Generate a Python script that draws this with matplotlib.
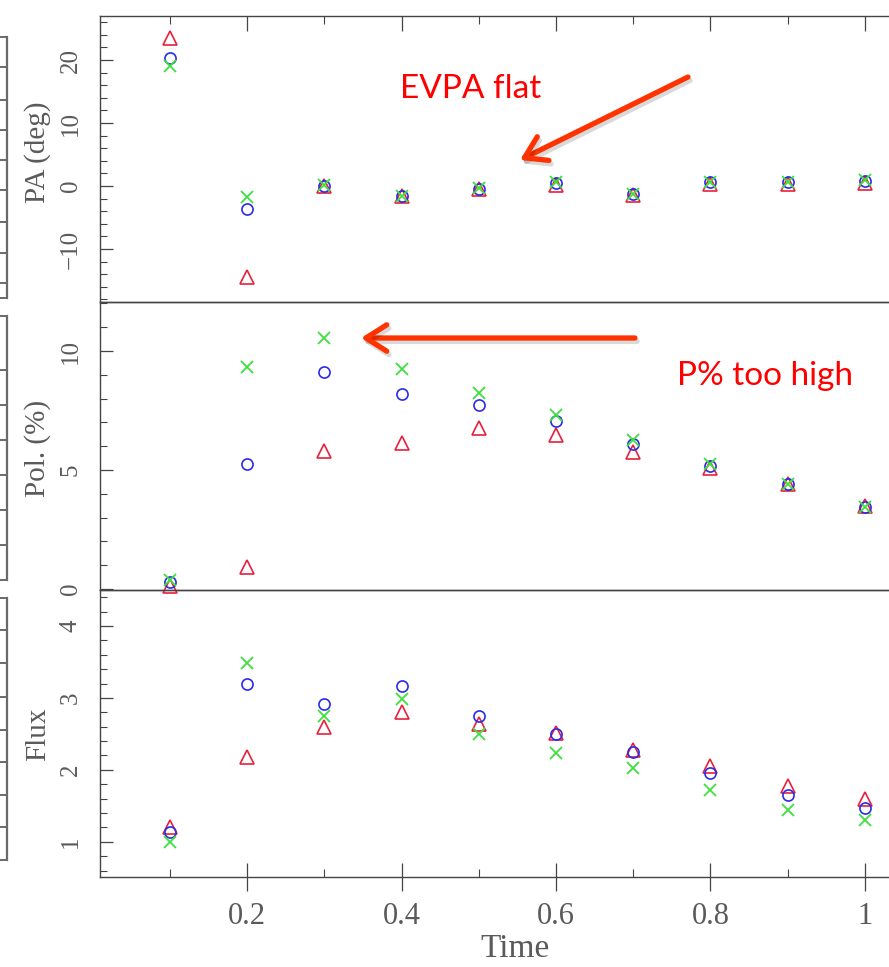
import matplotlib
matplotlib.use("Agg")
import matplotlib.pyplot as plt
import matplotlib.patheffects as pe
from matplotlib.patches import FancyArrowPatch
from matplotlib.lines import Line2D
from matplotlib.ticker import FixedLocator, MultipleLocator

# ---------------- data ----------------
time = [0.1, 0.2, 0.3, 0.4, 0.5, 0.6, 0.7, 0.8, 0.9, 1.0]

pa_tri = [23.5, -14.5, 0.0, -1.6, -0.4, 0.1, -1.4, 0.3, 0.3, 0.5]
pa_circ = [20.3, -3.7, 0.0, -1.6, -0.4, 0.5, -1.3, 0.6, 0.6, 0.8]
pa_cross = [19.0, -1.7, 0.1, -1.5, -0.3, 0.6, -1.2, 0.7, 0.6, 0.9]

pol_tri = [0.13, 0.94, 5.81, 6.15, 6.75, 6.47, 5.77, 5.10, 4.43, 3.50]
pol_circ = [0.30, 5.25, 9.10, 8.19, 7.74, 7.07, 6.09, 5.18, 4.40, 3.46]
pol_cross = [0.38, 9.34, 10.53, 9.23, 8.22, 7.31, 6.26, 5.24, 4.40, 3.46]

flux_tri = [1.21, 2.18, 2.59, 2.81, 2.64, 2.51, 2.28, 2.05, 1.77, 1.59]
flux_circ = [1.13, 3.19, 2.92, 3.17, 2.75, 2.50, 2.25, 1.95, 1.65, 1.47]
flux_cross = [1.00, 3.49, 2.75, 2.99, 2.50, 2.23, 2.02, 1.72, 1.44, 1.30]

x_ticks = [0.2, 0.4, 0.6, 0.8, 1.0]
x_ticklabels = ["0.2", "0.4", "0.6", "0.8", "1"]
pa_ticks = [-10, 0, 10, 20]
pa_ticklabels = ["\u221210", "0", "10", "20"]
pol_ticks = [0, 5, 10]
pol_ticklabels = ["0", "5", "10"]
flux_ticks = [1, 2, 3, 4]
flux_ticklabels = ["1", "2", "3", "4"]

panel_labels = ["PA (deg)", "Pol. (%)", "Flux"]

# ---------------- figure ----------------
W, H = 889, 967
fig = plt.figure(figsize=(W / 100, H / 100), dpi=100)
fig.patch.set_facecolor("white")

SERIF = ["Liberation Serif", "DejaVu Serif"]
AX_COL = "#444444"
TXT_COL = "#5a5a5a"
RED = "#e8203c"
BLUE = "#2b2be8"
GREEN = "#3ee03e"


def px_rect(left, top, right, bottom):
    return [left / W, 1 - bottom / H, (right - left) / W, (bottom - top) / H]


def fx(x):
    return x / W


def fy(y):
    return 1 - y / H


panels = [
    dict(rect=(100, 16, 908, 302), ylim=(-18.4, 27.0), ticks=pa_ticks,
         labels=pa_ticklabels, minor=2, series=(pa_tri, pa_circ, pa_cross)),
    dict(rect=(100, 302, 908, 590), ylim=(-0.04, 12.06), ticks=pol_ticks,
         labels=pol_ticklabels, minor=1, series=(pol_tri, pol_circ, pol_cross)),
    dict(rect=(100, 590, 908, 877), ylim=(0.51, 4.50), ticks=flux_ticks,
         labels=flux_ticklabels, minor=0.2, series=(flux_tri, flux_circ, flux_cross)),
]

axes = []
for i, p in enumerate(panels):
    ax = fig.add_axes(px_rect(*p["rect"]))
    axes.append(ax)
    ax.set_xlim(0.0093, 1.056)
    ax.set_ylim(*p["ylim"])
    for s in ax.spines.values():
        s.set_color(AX_COL)
        s.set_linewidth(1.0)
    ax.spines["right"].set_visible(False)

    tri, circ, cross = p["series"]
    ax.plot(time, tri, ls="none", marker="^", ms=10, mfc="none", mec=RED,
            mew=1.2, clip_on=False, zorder=3)
    ax.plot(time, circ, ls="none", marker="o", ms=8, mfc="none", mec=BLUE,
            mew=1.2, clip_on=False, zorder=4)
    ax.plot(time, cross, ls="none", marker="x", ms=8, mfc="none", mec=GREEN,
            mew=1.3, clip_on=False, zorder=5)

    # y axis
    ax.yaxis.set_major_locator(FixedLocator(p["ticks"]))
    ax.set_yticklabels(p["labels"], family=SERIF, fontsize=18, color=TXT_COL)
    ax.yaxis.set_minor_locator(MultipleLocator(p["minor"]))
    ax.tick_params(axis="y", which="major", direction="in", length=9.5,
                   width=0.9, color=AX_COL, pad=13, labelrotation=90,
                   left=True, right=False)
    ax.tick_params(axis="y", which="minor", direction="in", length=5,
                   width=0.8, color=AX_COL, left=True, right=False)
    for lab in ax.get_yticklabels():
        lab.set_va("center")

    # x axis
    ax.xaxis.set_major_locator(FixedLocator(x_ticks))
    ax.xaxis.set_minor_locator(MultipleLocator(0.1))
    on_top = i == 0
    on_bottom = i == len(panels) - 1
    ax.tick_params(axis="x", which="major", direction="in", length=10.5,
                   width=0.9, color=AX_COL, top=on_top, bottom=on_bottom,
                   labelbottom=on_bottom, labeltop=False)
    ax.tick_params(axis="x", which="minor", direction="in", length=5.5,
                   width=0.8, color=AX_COL, top=on_top, bottom=on_bottom)
    if on_bottom:
        ax.tick_params(axis="x", which="major", direction="inout", length=20,
                       pad=8)
        ax.set_xticklabels(x_ticklabels, family=SERIF, fontsize=22,
                           color=TXT_COL)
    ax.set_facecolor("none")

# axis titles
label_y = [152, 448, 734]
for lab, yy in zip(panel_labels, label_y):
    fig.text(fx(38), fy(yy), lab, rotation=90, ha="center", va="center",
             family=SERIF, fontsize=21, color=TXT_COL)
fig.text(fx(515), fy(949), "Time", ha="center", va="center", family=SERIF,
         fontsize=24, color=TXT_COL)

# frame edge of the neighbouring plot at the far left
edge_col = "#6a6a6a"
edge_blocks = [
    (37, 298, [37, 67, 100, 130, 160, 190, 222, 253, 283, 298]),
    (316, 580, [316, 370, 405, 440, 475, 510, 545, 580]),
    (598, 860, [598, 630, 663, 697, 730, 762, 795, 827, 860]),
]
for top, bot, rows in edge_blocks:
    fig.add_artist(Line2D([fx(7), fx(7)], [fy(top), fy(bot)], color=edge_col,
                          lw=1.6))
    for r in rows:
        fig.add_artist(Line2D([fx(0), fx(7)], [fy(r), fy(r)], color=edge_col,
                              lw=1.4))

# annotations
NOTE_RED = "#ff0000"
ARROW_RED = "#ff3300"
fig.text(fx(400), fy(98), "EVPA flat", ha="left", va="baseline",
         family=["Lato", "DejaVu Sans"], fontsize=24, color=NOTE_RED)
fig.text(fx(677), fy(385), "P% too high", ha="left", va="baseline",
         family=["Lato", "DejaVu Sans"], fontsize=24, color=NOTE_RED)

shadow = [pe.SimpleLineShadow(offset=(1.5, -2.5), shadow_color="black",
                              alpha=0.15), pe.Normal()]
for (x0, y0), (x1, y1) in [((688, 77), (520, 160)), ((635, 338), (361, 338))]:
    arr = FancyArrowPatch((fx(x0), fy(y0)), (fx(x1), fy(y1)),
                          transform=fig.transFigure,
                          arrowstyle="->,head_length=15,head_width=9.5",
                          mutation_scale=1, lw=3.8, color=ARROW_RED,
                          capstyle="round", joinstyle="round",
                          shrinkA=0, shrinkB=0, path_effects=shadow)
    fig.add_artist(arr)

fig.savefig("out.png", dpi=100)
